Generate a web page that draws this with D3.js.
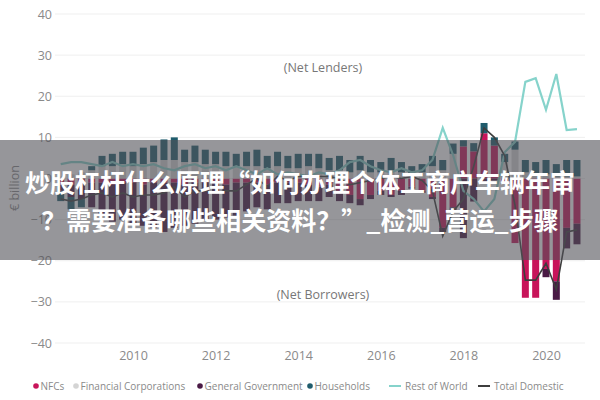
<!DOCTYPE html>
<html><head><meta charset="utf-8">
<script src="https://cdn.jsdelivr.net/npm/d3@7/dist/d3.min.js"></script>
<style>body{margin:0;background:#fff}svg{display:block}</style>
</head><body><svg id="c" width="600" height="400"></svg>
<script>
const quarters = [
 "2008Q2","2008Q3","2008Q4",
 "2009Q1","2009Q2","2009Q3","2009Q4",
 "2010Q1","2010Q2","2010Q3","2010Q4",
 "2011Q1","2011Q2","2011Q3","2011Q4",
 "2012Q1","2012Q2","2012Q3","2012Q4",
 "2013Q1","2013Q2","2013Q3","2013Q4",
 "2014Q1","2014Q2","2014Q3","2014Q4",
 "2015Q1","2015Q2","2015Q3","2015Q4",
 "2016Q1","2016Q2","2016Q3","2016Q4",
 "2017Q1","2017Q2","2017Q3","2017Q4",
 "2018Q1","2018Q2","2018Q3","2018Q4",
 "2019Q1","2019Q2","2019Q3","2019Q4",
 "2020Q1","2020Q2","2020Q3","2020Q4"];
const nfcs = [
 -1,-1.5,-1,
 -1,-1,-1.5,-1,
 -1,-1.5,-1,-1,
 -1,-1.5,-1,-1,
 -1,-1.5,-1,-1,
 -1,-1.5,-1,-1,
 -1,-1.5,-2,-1.5,
 -3,-4,-5,-4,
 -3,-4,-3,-2,
 -3,-4.5,-12,-7,
 7.8,6.6,11,8,
 -1,-15.7,-29,-29,
 -22,-25,-12,-11];
const financialCorporations = [
 0.5,1,1.5,
 2,3,3,3.5,
 3,3.5,4,4.5,
 4.5,4,4,3.5,
 3.5,3,3,3,
 3,2.5,3,2.5,
 2.5,3,2.5,2,
 2,1.5,2,1.5,
 1.5,2,1.5,1,
 1.5,3,2,6,
 0,0,0,0,
 4,7,1.5,1,
 1,0.5,0.5,0.5];
const generalGovernment = [
 -2,-3,-4,
 -6,-8,-9,-9,
 -10,-10,-11,-12,
 -11,-10,-10,-9,
 -9,-8,-8,-7,
 -6,-6,-5,-5,
 -4.5,-4,-3.5,-3,
 -2.5,-2,-1.5,-1,
 -1,-0.5,-1,-0.5,
 -0.5,-0.5,-1,-1,
 -14.5,-5.6,-1.2,-0.5,
 0,0,0,0,
 -2,-4.5,-5,-5];
const households = [
 -2.5,-3,-2,
 1,2.5,3,3,
 3.5,4,4,5,
 5.5,3,4,3.5,
 3,3.5,3,3.5,
 4,3,3.5,3,
 3.5,3,3.5,3,
 3.5,3,3.5,3,
 2.5,3,2.5,2,
 2,2.5,2.5,2.5,
 1.5,2,2.5,2,
 2,2,3,3,
 3.5,3,4,4];
const restOfWorld = [
 3.5,4,4,
 3.5,3,4,3,
 3.5,3,3.5,2.5,
 2,3,3.5,2.5,
 3,2,3,2,
 1,2.5,1,1.5,
 1,0.5,1.5,1,
 2,4,4.5,3,
 2,1.5,2.5,1.5,
 2,4.5,12.3,5.7,
 -3,-5,-8,-5,
 6.4,8.9,23.5,24.4,
 16.7,25.4,11.8,12];
const totalDomestic = [
 -5,-5.5,-5,
 -4,-3.5,-4.5,-3.5,
 -4.5,-4,-4,-3.5,
 -2,-4.5,-3,-3,
 -3.5,-3,-3,-1.5,
 0,-2,0.5,-0.5,
 0.5,0.5,0.5,0.5,
 0,-1.5,-1,-0.5,
 0,0.5,0,0.5,
 -0.5,-3,-14,-8,
 -5,3,12.3,10,
 5.5,-6.5,-24.7,-24.7,
 -20.6,-27,-13,-12.5];
const yTicks = [-40,-30,-20,-10,0,10,20,30,40];
const xTicks = [2010,2012,2014,2016,2018,2020];
const seriesNames = ["NFCs","Financial Corporations","General Government","Households"];
const lineNames = ["Rest of World","Total Domestic"];
const bannerLines = ["炒股杠杆什么原理“如何办理个体工商户车辆年审","？需要准备哪些相关资料？”_检测_营运_步骤"];

const colors = {"NFCs":"#c8145a","Financial Corporations":"#d4d4d4","General Government":"#4a1a45","Households":"#1f5c6c","Rest of World":"#86d3cb","Total Domestic":"#3d3d3d"};

const svg = d3.select("#c");
const font = "'Open Sans', 'Noto Sans', sans-serif";
const toT = q => +q.slice(0,4) + (+q.slice(5)-1)/4;

const x = d3.scaleLinear().domain([2010,2020]).range([133,546]);
const y = d3.scaleLinear().domain([-40,40]).range([343,14]);
const plotL = 55, plotR = 585;

// gridlines
svg.append("g").selectAll("line").data(yTicks).join("line")
  .attr("x1",plotL).attr("x2",plotR)
  .attr("y1",d=>y(d)).attr("y2",d=>y(d))
  .attr("stroke","#efefef").attr("stroke-width",1);

// y axis labels
const yAxis = d3.axisLeft(y).tickValues(yTicks).tickSize(0).tickPadding(0);
const gy = svg.append("g").attr("transform",`translate(${plotL-3},0)`).call(yAxis);
gy.select(".domain").remove();
gy.selectAll("text").attr("font-family",font).attr("font-size",12.5).attr("fill","#8a8a8a");

// x axis labels
const xAxis = d3.axisBottom(x).tickValues(xTicks).tickFormat(d3.format("d")).tickSize(0).tickPadding(0);
const gx = svg.append("g").attr("transform",`translate(0,351)`).call(xAxis);
gx.select(".domain").remove();
gx.selectAll("text").attr("font-family",font).attr("font-size",12.5).attr("fill","#8a8a8a");

// y title
svg.append("text").attr("transform","translate(19,188) rotate(-90)")
  .attr("text-anchor","middle").attr("font-family",font).attr("font-size",12.5)
  .attr("fill","#8a8a8a").text("€ billion");

// stacked bars
const rows = quarters.map((q,i)=>({t:toT(q),"NFCs":nfcs[i],"Financial Corporations":financialCorporations[i],"General Government":generalGovernment[i],"Households":households[i]}));
const stack = d3.stack().keys(seriesNames).offset(d3.stackOffsetDiverging);
const stacked = stack(rows);
const bw = 7;
svg.append("g").selectAll("g").data(stacked).join("g")
  .attr("fill",d=>colors[d.key])
  .selectAll("rect").data(d=>d).join("rect")
  .attr("x",d=>x(d.data.t)-bw/2).attr("width",bw)
  .attr("y",d=>y(Math.max(d[0],d[1])))
  .attr("height",d=>Math.abs(y(d[0])-y(d[1])));

// lines
const lineGen = vals => d3.line().x((d,i)=>x(toT(quarters[i]))).y(d=>y(d))(vals);
svg.append("path").attr("d",lineGen(restOfWorld)).attr("fill","none")
  .attr("stroke",colors["Rest of World"]).attr("stroke-width",2.2);
svg.append("path").attr("d",lineGen(totalDomestic)).attr("fill","none")
  .attr("stroke",colors["Total Domestic"]).attr("stroke-width",1.6);

// annotations
svg.append("text").attr("x",323).attr("y",72).attr("text-anchor","middle")
  .attr("font-family",font).attr("font-size",12.5).attr("fill","#777").text("(Net Lenders)");
svg.append("text").attr("x",323).attr("y",299).attr("text-anchor","middle")
  .attr("font-family",font).attr("font-size",12.5).attr("fill","#777").text("(Net Borrowers)");

// legend
const legend = svg.append("g").attr("font-family",font).attr("font-size",10).attr("fill","#8a8a8a");
const legItems = [
 {name:"NFCs",type:"dot",x:36},
 {name:"Financial Corporations",type:"dot",x:76},
 {name:"General Government",type:"dot",x:200},
 {name:"Households",type:"dot",x:310},
 {name:"Rest of World",type:"line",x:389},
 {name:"Total Domestic",type:"line",x:478}];
const ly = 386;
legItems.forEach(it=>{
  if(it.type==="dot"){
    legend.append("circle").attr("cx",it.x).attr("cy",ly).attr("r",2.8).attr("fill",colors[it.name]);
    legend.append("text").attr("x",it.x+4.5).attr("y",ly+3.5).text(it.name);
  } else {
    legend.append("line").attr("x1",it.x).attr("x2",it.x+12).attr("y1",ly).attr("y2",ly)
      .attr("stroke",colors[it.name]).attr("stroke-width",2);
    legend.append("text").attr("x",it.x+16).attr("y",ly+3.5).text(it.name);
  }
});

// banner overlay
svg.append("rect").attr("x",0).attr("y",140).attr("width",600).attr("height",120)
  .attr("fill","rgb(80,80,86)").attr("fill-opacity",0.6);
svg.append("g").selectAll("text").data(bannerLines).join("text")
  .attr("x",300).attr("y",(d,i)=>192+i*38).attr("text-anchor","middle")
  .attr("font-family","'Noto Sans CJK SC', sans-serif").attr("font-weight","bold")
  .attr("font-size",25).attr("fill","#fff").text(d=>d);
</script></body></html>
